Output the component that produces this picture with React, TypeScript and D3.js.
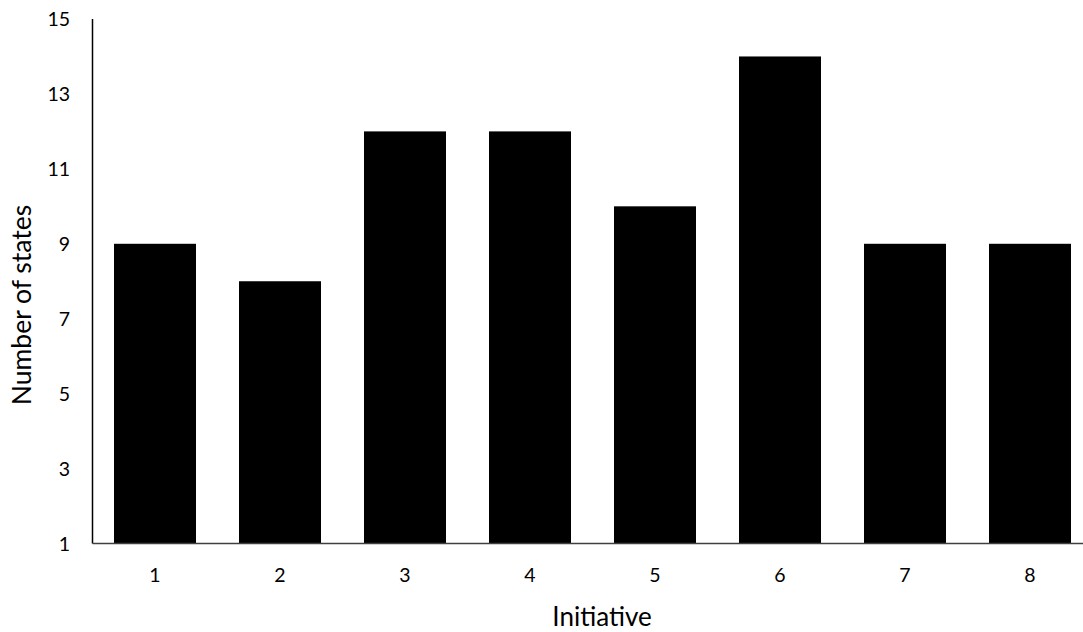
import React from "react";
import * as d3 from "d3";

const categories = ["1", "2", "3", "4", "5", "6", "7", "8"];
const values = [9, 8, 12, 12, 10, 14, 9, 9];
const yTicks = [1, 3, 5, 7, 9, 11, 13, 15];

const W = 1083;
const H = 632;
const FONT = "Lato, 'Open Sans', sans-serif";

export default function App() {
  const left = 92.5;
  const x = d3.scaleBand<string>().domain(categories).range([left, left + 1000]).paddingInner(0.344).paddingOuter(0.172);
  const y = d3.scaleLinear().domain([1, 15]).range([543.5, 19]);
  return (
    <svg width={W} height={H} style={{ position: "absolute", left: 0, top: 0, background: "#fff" }}>
      {categories.map((c, i) => (
        <rect key={c} x={x(c)} y={y(values[i])} width={x.bandwidth()} height={y(1) - y(values[i])} fill="#000" />
      ))}
      <line x1={left} x2={left} y1={y(15)} y2={y(1)} stroke="#000" strokeWidth={1.5} />
      <line x1={left} x2={left + 1000} y1={y(1)} y2={y(1)} stroke="#404040" strokeWidth={1.5} />
      {yTicks.map((t) => (
        <text key={t} x={70} y={y(t)} dy="0.36em" textAnchor="end" fontFamily={FONT} fontSize={19.5} fill="#000">
          {t}
        </text>
      ))}
      {categories.map((c) => (
        <text key={c} x={(x(c) as number) + x.bandwidth() / 2} y={575} dy="0.36em" textAnchor="middle" fontFamily={FONT} fontSize={19.5} fill="#000">
          {c}
        </text>
      ))}
      <text x={602} y={617} dy="0.36em" textAnchor="middle" fontFamily={FONT} fontSize={26} fill="#000">
        Initiative
      </text>
      <text transform={`translate(21,305) rotate(-90)`} dy="0.36em" textAnchor="middle" fontFamily={FONT} fontSize={26.5} fill="#000">
        Number of states
      </text>
    </svg>
  );
}
